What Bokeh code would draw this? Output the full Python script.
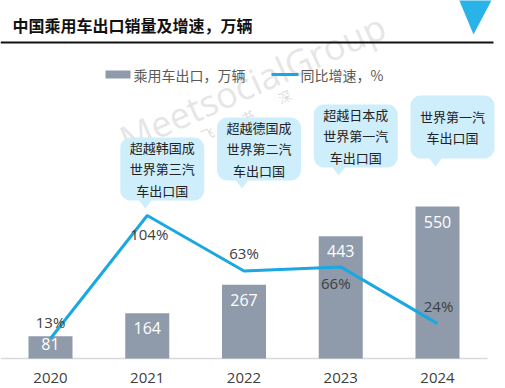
import math
from bokeh.plotting import figure
from bokeh.models import Range1d
from bokeh.core.properties import value
from bokeh.embed import file_html
from bokeh.resources import INLINE

# ---- data ----
years = ["2020", "2021", "2022", "2023", "2024"]
exports = [81, 164, 267, 443, 550]          # 万辆
growth = [13, 104, 63, 66, 24]              # %
callouts = ["超越韩国成\n世界第三汽\n车出口国",
            "超越德国成\n世界第二汽\n车出口国",
            "超越日本成\n世界第一汽\n车出口国",
            "世界第一汽\n车出口国"]
callout_years = ["2021", "2022", "2023", "2024"]
title_text = "中国乘用车出口销量及增速，万辆"
legend_bar = "乘用车出口，万辆"
legend_line = "同比增速，%"

# ---- layout ----
W, H = 505, 388
C0, STEP = 50, 96.75     # px of first category centre, px between categories
X0, X1 = -C0 / STEP, (W - C0) / STEP
PPU = 0.2762            # px per 万辆
PPP = 1.3516            # px per %
base_px = 358
Y0, Y1 = -(H - base_px) / PPU, base_px / PPU
pct0_px = 355.6
P0, P1 = -(H - pct0_px) / PPP, pct0_px / PPP

def X(sx):
    return X0 + sx / W * (X1 - X0)

def Y(sy):
    return Y1 - sy / H * (Y1 - Y0)

BAR = "#8f9bab"
BLUE = "#1ba7e1"
BUBBLE = "#cfeefc"
CJK = value("Noto Sans CJK SC")
NUM = value("Open Sans")

p = figure(width=W, height=H, output_backend="svg", toolbar_location=None,
           x_range=Range1d(X0, X1), y_range=Range1d(Y0, Y1),
           min_border=0, min_border_left=0, min_border_right=0,
           min_border_top=0, min_border_bottom=0)
p.extra_y_ranges = {"pct": Range1d(P0, P1)}
p.xaxis.visible = False
p.yaxis.visible = False
p.grid.visible = False
p.outline_line_color = None
p.background_fill_color = "white"
p.border_fill_color = "white"

idx = list(range(len(years)))

# watermark
p.text(x=[X(252)], y=[Y(82)], text=["MeetsocialGroup"], angle=0.42,
       text_font=NUM, text_font_size="36px", text_color="#bdbdbd", text_alpha=0.4,
       text_align="center", text_baseline="middle")
p.text(x=[X(207), X(247), X(284)], y=[Y(133), Y(116), Y(96)], text=["飞", "书", "深"],
       angle=0.42, text_font=CJK, text_font_size="13px", text_color="#c4c4c4",
       text_alpha=0.6, text_align="center", text_baseline="middle")

# baseline
p.segment(x0=[X(0)], x1=[X(487)], y0=[0], y1=[0], line_color="#d9d9d9", line_width=1.5)

# bars
p.vbar(x=idx, top=exports, bottom=0, width=0.455, fill_color=BAR, line_color=None)

# bar value labels
offs = [8 if v < 100 else 15 for v in exports]
p.text(x=idx, y=exports, text=[str(v) for v in exports], y_offset=offs,
       text_font=NUM, text_font_size="16px", text_color="white",
       text_align="center", text_baseline="middle")

# growth line
p.line(x=idx, y=growth, y_range_name="pct", line_color=BLUE, line_width=3)
g_off = [-17, 18, -18, 16, -18]
g_xoff = [0, 2, 0, -5, 1]
p.text(x=idx, y=growth, y_range_name="pct", text=[f"{g}%" for g in growth],
       y_offset=g_off, x_offset=g_xoff, text_font=NUM, text_font_size="15px",
       text_color="#404040", text_align="center", text_baseline="middle")

# year labels
p.text(x=idx, y=[0] * len(years), text=years, y_offset=19,
       text_font=NUM, text_font_size="15px", text_color="#404040",
       text_align="center", text_baseline="middle")

# callout bubbles
tops_px = [137, 117, 104, 95]
bw, bh = 84, 63
for yr, txt, tp in zip(callout_years, callouts, tops_px):
    i = years.index(yr)
    cx = C0 + STEP * i
    left = cx - 27
    p.quad(left=[X(left)], right=[X(left + bw)], top=[Y(tp)], bottom=[Y(tp + bh)],
           fill_color=BUBBLE, line_color=None, border_radius=10)
    tipx = cx - 2
    p.patch(x=[X(tipx - 7), X(tipx + 7), X(tipx)], y=[Y(tp + bh - 1), Y(tp + bh - 1), Y(tp + bh + 8)],
            fill_color=BUBBLE, line_color=None)
    p.text(x=[X(left + bw / 2)], y=[Y(tp + bh / 2)], text=[txt], text_font=CJK,
           text_font_size="13px", text_color="#222222", text_align="center",
           text_baseline="middle", text_line_height=1.12)

# title
p.text(x=[X(12)], y=[Y(24)], text=[title_text], text_font=CJK, text_font_size="16px",
       text_font_style="bold", text_color="#111111", text_align="left", text_baseline="middle")
p.segment(x0=[X(0)], x1=[X(493)], y0=[Y(42)], y1=[Y(42)], line_color="#111111", line_width=2)
p.patch(x=[X(458), X(492), X(473)], y=[Y(-2), Y(-2), Y(34)], fill_color="#2ab3e8", line_color=None)

# legend
p.quad(left=[X(105)], right=[X(130)], top=[Y(70)], bottom=[Y(78)], fill_color=BAR, line_color=None)
p.text(x=[X(133)], y=[Y(74)], text=[legend_bar], text_font=CJK, text_font_size="14px",
       text_color="#595959", text_align="left", text_baseline="middle")
p.segment(x0=[X(271)], x1=[X(298)], y0=[Y(74)], y1=[Y(74)], line_color=BLUE, line_width=3)
p.text(x=[X(300)], y=[Y(74)], text=[legend_line], text_font=CJK, text_font_size="14px",
       text_color="#595959", text_align="left", text_baseline="middle")

open("out.html", "w").write(file_html(p, INLINE))
